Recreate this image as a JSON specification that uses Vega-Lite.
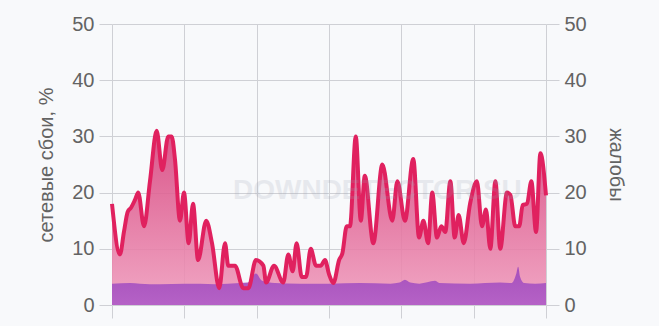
{
  "$schema": "https://vega.github.io/schema/vega-lite/v6.json",
  "autosize": "none",
  "width": 434,
  "height": 281,
  "padding": {"left": 112, "top": 24, "right": 113, "bottom": 21},
  "background": "#f8f9fb",
  "config": {
    "view": {"stroke": null},
    "axis": {
      "gridColor": "#cfd0d5",
      "gridWidth": 1,
      "tickColor": "#cfd0d5",
      "tickSize": 13,
      "domain": false,
      "labelFont": "Liberation Sans",
      "labelFontSize": 20,
      "labelColor": "#636363",
      "labelPadding": 5,
      "titleFont": "Liberation Sans",
      "titleFontSize": 20,
      "titleFontWeight": "normal",
      "titleColor": "#636363"
    }
  },
  "datasets": {
    "failures": [
      {"t": 0, "v": 18}, {"t": 0.44, "v": 9}, {"t": 0.66, "v": 13}, {"t": 0.87, "v": 16.6},
      {"t": 1.05, "v": 17.3}, {"t": 1.27, "v": 18.7}, {"t": 1.45, "v": 20}, {"t": 1.77, "v": 14},
      {"t": 2.1, "v": 22}, {"t": 2.47, "v": 31}, {"t": 2.78, "v": 24}, {"t": 3.11, "v": 30},
      {"t": 3.3, "v": 30}, {"t": 3.48, "v": 26}, {"t": 3.76, "v": 15}, {"t": 3.98, "v": 20},
      {"t": 4.24, "v": 11}, {"t": 4.48, "v": 18}, {"t": 4.76, "v": 8}, {"t": 5.21, "v": 15},
      {"t": 5.53, "v": 11}, {"t": 5.93, "v": 3}, {"t": 6.25, "v": 11}, {"t": 6.43, "v": 7},
      {"t": 6.8, "v": 7}, {"t": 7.26, "v": 3}, {"t": 7.54, "v": 3}, {"t": 7.96, "v": 8},
      {"t": 8.37, "v": 7}, {"t": 8.52, "v": 4}, {"t": 8.96, "v": 7}, {"t": 9.47, "v": 4},
      {"t": 9.75, "v": 9}, {"t": 9.99, "v": 6}, {"t": 10.21, "v": 11}, {"t": 10.49, "v": 5},
      {"t": 10.73, "v": 5}, {"t": 10.99, "v": 10}, {"t": 11.28, "v": 7}, {"t": 11.54, "v": 7},
      {"t": 11.78, "v": 8}, {"t": 12.0, "v": 5.5}, {"t": 12.24, "v": 3.9}, {"t": 12.56, "v": 8},
      {"t": 12.74, "v": 9.2}, {"t": 12.98, "v": 14}, {"t": 13.16, "v": 14}, {"t": 13.48, "v": 30},
      {"t": 13.76, "v": 15}, {"t": 13.98, "v": 23}, {"t": 14.45, "v": 11}, {"t": 14.95, "v": 25},
      {"t": 15.5, "v": 15}, {"t": 15.78, "v": 22}, {"t": 16.2, "v": 15}, {"t": 16.66, "v": 26},
      {"t": 16.98, "v": 12}, {"t": 17.22, "v": 15}, {"t": 17.48, "v": 11}, {"t": 17.71, "v": 20},
      {"t": 17.97, "v": 12}, {"t": 18.21, "v": 14}, {"t": 18.43, "v": 13}, {"t": 18.71, "v": 22},
      {"t": 18.95, "v": 12}, {"t": 19.17, "v": 16}, {"t": 19.45, "v": 11}, {"t": 19.8, "v": 18},
      {"t": 20.18, "v": 22}, {"t": 20.46, "v": 14}, {"t": 20.68, "v": 17}, {"t": 20.92, "v": 10},
      {"t": 21.2, "v": 22}, {"t": 21.47, "v": 10}, {"t": 21.84, "v": 20}, {"t": 22.03, "v": 19.6},
      {"t": 22.3, "v": 14}, {"t": 22.52, "v": 14}, {"t": 22.71, "v": 17.8}, {"t": 22.95, "v": 18},
      {"t": 23.19, "v": 22}, {"t": 23.45, "v": 13}, {"t": 23.69, "v": 27}, {"t": 24, "v": 19.5}
    ],
    "complaints": [
      {"t": 0, "v": 3.8}, {"t": 1.0, "v": 3.9}, {"t": 1.55, "v": 3.8}, {"t": 2.65, "v": 3.7},
      {"t": 4.0, "v": 3.8}, {"t": 4.87, "v": 3.8}, {"t": 5.7, "v": 3.7}, {"t": 7.08, "v": 3.9},
      {"t": 7.52, "v": 4.0}, {"t": 7.96, "v": 5.6}, {"t": 8.3, "v": 4.3}, {"t": 9.0, "v": 3.9},
      {"t": 10.4, "v": 3.8}, {"t": 12.06, "v": 3.8}, {"t": 13.7, "v": 3.9}, {"t": 15.4, "v": 3.8},
      {"t": 15.9, "v": 4.0}, {"t": 16.2, "v": 4.5}, {"t": 16.5, "v": 4.0}, {"t": 17.0, "v": 3.8},
      {"t": 17.86, "v": 4.3}, {"t": 18.1, "v": 3.9}, {"t": 19.8, "v": 3.8}, {"t": 21.46, "v": 4.0},
      {"t": 22.1, "v": 3.9}, {"t": 22.35, "v": 5.5}, {"t": 22.46, "v": 6.8}, {"t": 22.57, "v": 5.0},
      {"t": 22.8, "v": 3.9}, {"t": 23.4, "v": 3.8}, {"t": 24, "v": 3.9}
    ],
    "watermark": [
      {"t": 6.69, "v": 20.3, "label": "DOWNDETECTOR.SU"}
    ]
  },
  "encoding": {
    "x": {
      "field": "t",
      "type": "quantitative",
      "scale": {"domain": [0, 24], "nice": false, "zero": false},
      "axis": {"values": [0, 4, 8, 12, 16, 20, 24], "labels": false, "title": null, "grid": true}
    }
  },
  "layer": [
    {
      "data": {"name": "failures"},
      "mark": {
        "type": "area",
        "interpolate": "monotone",
        "opacity": 0.88,
        "color": {
          "gradient": "linear",
          "x1": 0, "y1": 0, "x2": 0, "y2": 1,
          "stops": [
            {"offset": 0, "color": "#d63f7a"},
            {"offset": 1, "color": "#f09cbd"}
          ]
        }
      },
      "encoding": {
        "y": {
          "field": "v",
          "type": "quantitative",
          "scale": {"domain": [0, 50], "nice": false},
          "axis": {"orient": "left", "values": [0, 10, 20, 30, 40, 50], "grid": true, "title": "сетевые сбои, %", "titlePadding": 15}
        }
      }
    },
    {
      "data": {"name": "complaints"},
      "mark": {
        "type": "area",
        "interpolate": "monotone",
        "color": {
          "gradient": "linear",
          "x1": 0, "y1": 0, "x2": 0, "y2": 1,
          "stops": [
            {"offset": 0, "color": "#a650bc"},
            {"offset": 1, "color": "#b562c6"}
          ]
        }
      },
      "encoding": {
        "y": {
          "field": "v",
          "type": "quantitative",
          "scale": {"domain": [0, 50], "nice": false},
          "axis": {"orient": "right", "values": [0, 10, 20, 30, 40, 50], "grid": false, "title": "жалобы", "titlePadding": 19}
        }
      }
    },
    {
      "data": {"name": "failures"},
      "mark": {"type": "line", "interpolate": "monotone", "color": "#e0215f", "strokeWidth": 4},
      "encoding": {
        "y": {"field": "v", "type": "quantitative", "scale": {"domain": [0, 50], "nice": false}, "axis": null}
      }
    },
    {
      "data": {"name": "watermark"},
      "mark": {"type": "text", "align": "left", "baseline": "middle", "font": "Liberation Sans", "fontWeight": "bold", "fontSize": 28, "color": "#9aa0b0", "opacity": 0.18},
      "encoding": {
        "y": {"field": "v", "type": "quantitative", "scale": {"domain": [0, 50], "nice": false}, "axis": null},
        "text": {"field": "label"}
      }
    }
  ],
  "resolve": {"scale": {"y": "independent"}}
}
